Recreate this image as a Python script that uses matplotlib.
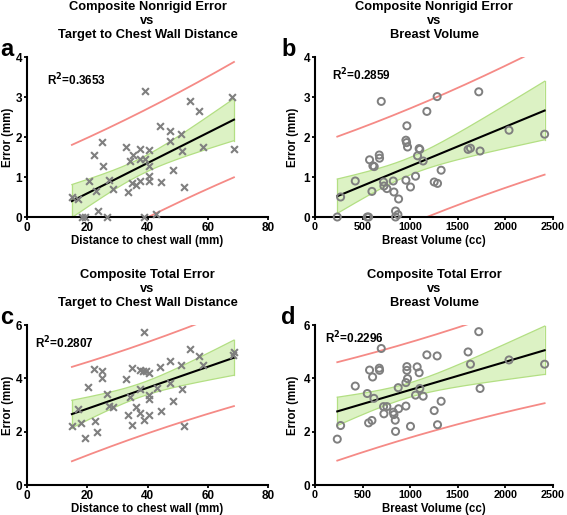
import numpy as np
import matplotlib
matplotlib.use("Agg")
import matplotlib.pyplot as plt

plt.rcParams['font.family'] = ['Liberation Sans', 'DejaVu Sans']
plt.rcParams['font.weight'] = 'bold'

# ---- data ----
dist_a = [14.9, 16.9, 18.2, 19.3, 20.6, 22.3, 22.8, 23.5, 24.9, 25.1, 26.5, 27.2, 28.4,
          32.9, 33.4, 34.1, 35.1, 34.9, 36.3, 37.5, 37.4, 37.6, 38.9, 39.1, 39.1, 40.4,
          40.4, 40.5, 40.5, 42.9, 44.3, 44.4, 47.5, 47.5, 48.3, 51.0, 51.4, 52.2, 54.2,
          57.1, 58.4, 68.2, 68.7]
err_a = [0.50, 0.44, 0.0, 0.0, 0.89, 1.54, 0.64, 0.15, 1.88, 1.28, 0.0, 0.92, 0.71,
         1.75, 0.63, 1.40, 1.54, 0.85, 0.79, 1.70, 1.44, 0.89, 0.0, 3.15, 1.45, 1.67,
         1.28, 1.03, 0.89, 0.08, 2.27, 0.87, 2.16, 1.91, 1.17, 2.07, 1.66, 0.76, 2.89,
         2.64, 1.75, 3.01, 1.71]

vol_b = [234, 269, 423, 549, 563, 573, 598, 608, 622, 675, 678, 696, 720, 724, 755,
         822, 829, 846, 846, 871, 878, 955, 955, 962, 965, 972, 1003, 1056, 1077, 1094,
         1101, 1136, 1175, 1252, 1287, 1283, 1325, 1608, 1633, 1720, 1734, 2038, 2412]
err_b = [0.0, 0.50, 0.90, 0.0, 0.0, 1.43, 0.64, 1.28, 1.26, 1.55, 1.47, 2.89, 0.875,
         0.775, 0.71, 0.90, 0.625, 0.15, 0.0, 0.06, 0.45, 0.92, 1.92, 1.86, 2.28, 1.75,
         0.75, 1.02, 1.53, 1.71, 1.69, 1.40, 2.64, 0.875, 0.84, 3.01, 1.17, 1.69, 1.72,
         3.13, 1.65, 2.17, 2.07]

dist_c = [14.9, 16.8, 17.9, 19.2, 20.4, 22.3, 22.6, 23.4, 24.9, 24.9, 26.5, 27.1, 28.4,
          32.8, 33.4, 34.1, 34.9, 34.9, 36.2, 37.4, 37.5, 37.6, 38.6, 38.9, 39.0, 39.4,
          40.4, 40.4, 40.5, 40.5, 43.0, 44.3, 44.6, 47.4, 47.5, 48.3, 51.0, 51.4, 52.2,
          54.2, 57.1, 58.4, 68.3, 68.7]
err_c = [2.21, 2.84, 2.31, 1.75, 3.69, 4.36, 2.41, 2.00, 4.29, 4.03, 3.43, 2.96, 2.94,
         3.96, 2.63, 3.31, 4.39, 2.25, 2.94, 4.31, 3.60, 2.69, 4.29, 2.44, 5.73, 4.28,
         4.21, 3.38, 3.23, 2.63, 3.65, 4.44, 2.79, 4.65, 3.81, 3.15, 4.50, 3.60, 2.21,
         5.09, 4.84, 4.50, 4.88, 4.98]

vol_d = [234, 269, 423, 549, 563, 573, 598, 605, 619, 675, 678, 696, 720, 724, 755,
         822, 829, 843, 846, 874, 878, 955, 955, 965, 965, 972, 1003, 1056, 1073, 1094,
         1101, 1136, 1175, 1252, 1283, 1287, 1325, 1608, 1633, 1720, 1734, 2038, 2412]
err_d = [1.72, 2.23, 3.71, 3.43, 2.33, 4.31, 2.42, 4.05, 3.25, 4.38, 4.30, 5.12, 2.94,
         2.67, 2.94, 2.73, 2.64, 2.43, 2.01, 3.65, 2.86, 2.96, 3.84, 4.44, 4.30, 3.99,
         2.20, 3.37, 4.43, 4.21, 3.62, 3.33, 4.88, 2.79, 4.84, 2.26, 3.14, 4.99, 4.53,
         5.75, 3.62, 4.69, 4.53]

titles = ["Composite Nonrigid Error\nvs\nTarget to Chest Wall Distance",
          "Composite Nonrigid Error\nvs\nBreast Volume",
          "Composite Total Error\nvs\nTarget to Chest Wall Distance",
          "Composite Total Error\nvs\nBreast Volume"]
r2_labels = ["0.3653", "0.2859", "0.2807", "0.2296"]
panel_letters = ["a", "b", "c", "d"]
xlabels = ["Distance to chest wall (mm)", "Breast Volume (cc)",
           "Distance to chest wall (mm)", "Breast Volume (cc)"]
ylabel = "Error (mm)"

W, H = 567, 515
fig = plt.figure(figsize=(W / 100, H / 100), dpi=100)

def ax_at(l, r, t, b):
    return fig.add_axes([l / W, (H - b) / H, (r - l) / W, (b - t) / H])

boxes = [(27, 268, 57, 217), (315, 553, 57, 217), (27, 268, 325, 485), (315, 553, 325, 485)]
datasets = [(dist_a, err_a), (vol_b, err_b), (dist_c, err_c), (vol_d, err_d)]
markers = ['x', 'o', 'x', 'o']
xlims = [(0, 80), (0, 2500), (0, 80), (0, 2500)]
xticks = [[0, 20, 40, 60, 80], [0, 500, 1000, 1500, 2000, 2500]] * 2
xtick_size = [8.5, 7.8, 8.5, 7.8]
ylims = [(0, 4), (0, 4), (0, 6), (0, 6)]
yticks = [[0, 1, 2, 3, 4], [0, 1, 2, 3, 4], [0, 2, 4, 6], [0, 2, 4, 6]]
r2_pos = [(47, 80), (332, 75), (35, 343), (325, 338)]
letter_pos = [(0, 50), (281, 50), (0, 318), (281, 318)]
title_y = [21, 21, 289, 289]       # pixel y of middle title line
ylabel_x = [8, 293, 8, 293]
xlabel_y = [241, 241, 509, 509]

T_CRIT = 2.02

for i in range(4):
    l, r, t, b = boxes[i]
    ax = ax_at(l, r, t, b)
    x = np.asarray(datasets[i][0], float)
    y = np.asarray(datasets[i][1], float)
    n = len(x)
    slope, intercept = np.polyfit(x, y, 1)
    xs = np.linspace(x.min(), x.max(), 200)
    yhat = slope * xs + intercept
    resid = y - (slope * x + intercept)
    s = np.sqrt(np.sum(resid ** 2) / (n - 2))
    sxx = np.sum((x - x.mean()) ** 2)
    se_mean = s * np.sqrt(1 / n + (xs - x.mean()) ** 2 / sxx)
    se_pred = s * np.sqrt(1 + 1 / n + (xs - x.mean()) ** 2 / sxx)
    lo, hi = yhat - T_CRIT * se_mean, yhat + T_CRIT * se_mean

    ax.fill_between(xs, lo, hi, facecolor='#dcf2c4', edgecolor='none', zorder=1)
    band_col = '#b3df83'
    ax.plot(xs, lo, color=band_col, lw=0.9, zorder=2)
    ax.plot(xs, hi, color=band_col, lw=0.9, zorder=2)
    ax.plot([xs[0], xs[0]], [lo[0], hi[0]], color=band_col, lw=0.9, zorder=2)
    ax.plot([xs[-1], xs[-1]], [lo[-1], hi[-1]], color=band_col, lw=0.9, zorder=2)
    ax.plot(xs, yhat - T_CRIT * se_pred, color='#f58a86', lw=1.3, zorder=2)
    ax.plot(xs, yhat + T_CRIT * se_pred, color='#f58a86', lw=1.3, zorder=2)
    ax.plot(xs, yhat, color='black', lw=1.5, zorder=4)

    if markers[i] == 'x':
        ax.scatter(x, y, marker='x', s=24, color='#7f7f7f', linewidths=1.5,
                   zorder=5, clip_on=False)
    else:
        ax.scatter(x, y, marker='o', s=26, facecolors='none', edgecolors='#7f7f7f',
                   linewidths=1.4, zorder=5, clip_on=False)

    ax.set_xlim(*xlims[i])
    ax.set_ylim(*ylims[i])
    ax.set_xticks(xticks[i])
    ax.set_yticks(yticks[i])
    for sp in ['top', 'right']:
        ax.spines[sp].set_visible(False)
    for sp in ['left', 'bottom']:
        ax.spines[sp].set_linewidth(1.5)
    ax.tick_params(width=1.3, length=2.5, pad=1)
    ax.tick_params(axis='y', labelsize=8.5)
    ax.tick_params(axis='x', labelsize=xtick_size[i])
    for lab in ax.get_xticklabels() + ax.get_yticklabels():
        lab.set_fontweight('bold')

    ax.set_xlabel(xlabels[i], fontsize=8.3, fontweight='bold', va='center')
    ax.xaxis.set_label_coords(0.5, (b - xlabel_y[i]) / (b - t))
    ax.set_ylabel(ylabel, fontsize=8.3, fontweight='bold', va='center')
    ax.yaxis.set_label_coords((ylabel_x[i] - l) / (r - l), 0.5)

    fig.text((l + r) / 2 / W, 1 - title_y[i] / H, titles[i], fontsize=9.3,
             fontweight='bold', ha='center', va='center', linespacing=1.22,
             multialignment='center')

    rx, ry = r2_pos[i]
    fig.text(rx / W, 1 - ry / H, "R$^{\\mathbf{2}}$=" + r2_labels[i], fontsize=8.5,
             fontweight='bold', va='center', ha='left')
    lx, ly = letter_pos[i]
    fig.text(lx / W, 1 - ly / H, panel_letters[i], fontsize=17, fontweight='bold',
             va='center', ha='left')

fig.savefig("out.png", dpi=100)
